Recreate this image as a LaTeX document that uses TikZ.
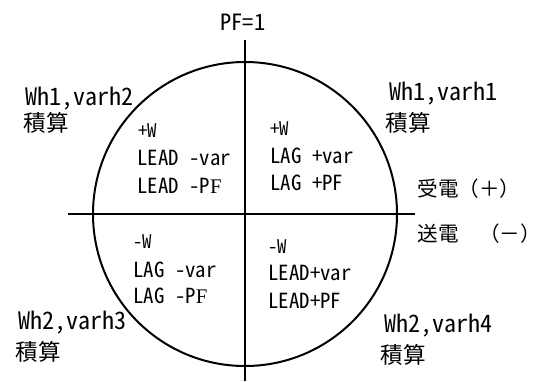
\documentclass[tikz,border=0pt]{standalone}
\usepackage{fontspec}
\newfontfamily\lat{Noto Sans CJK JP}[CharacterWidth=Half]
\newfontfamily\jp{Noto Sans CJK JP}
\newfontfamily\ser{Liberation Serif}
\begin{document}
\begin{tikzpicture}[x=0.5pt,y=-0.5pt,
  outer/.style={inner sep=0pt, anchor=base west, font=\lat\fontsize{12}{14}\selectfont},
  quad/.style={inner sep=0pt, anchor=base west, font=\lat\fontsize{10.4}{12}\selectfont},
  small/.style={inner sep=0pt, anchor=base west, font=\lat\fontsize{9.4}{11}\selectfont},
  jptext/.style={inner sep=0pt, anchor=base west, font=\jp\fontsize{11.3}{13}\selectfont},
  side/.style={inner sep=0pt, anchor=base west, font=\jp\fontsize{10.3}{12}\selectfont},
  axis/.style={line width=1pt}]
\useasboundingbox (0,0) rectangle (544,381);
\coordinate (O) at (245,214);
\coordinate (vt) at (245,40);
\coordinate (vb) at (245,381);
\coordinate (hl) at (68,214);
\coordinate (hr) at (415,214);
\draw[axis] (O) circle[radius=76pt];
\draw[axis] (vt) -- (vb);
\draw[axis] (hl) -- (hr);
% top label
\node[outer, font=\lat\fontsize{11.2}{13}\selectfont] (pf) at (220,30) {PF=1};
% outer labels
\node[outer] (q2a) at (25,105) {Wh1,varh2};
\node[jptext] (q2b) at (23,131) {積算};
\node[outer] (q1a) at (389,100) {Wh1,varh1};
\node[jptext] (q1b) at (385,131) {積算};
\node[outer] (q3a) at (18,329) {Wh2,varh3};
\node[jptext] (q3b) at (15,360) {積算};
\node[outer] (q4a) at (384,332) {Wh2,varh4};
\node[jptext] (q4b) at (380,363) {積算};
% quadrant texts
\node[small] (a1) at (138,137) {+W};
\node[quad] (a2) at (137,165) {LEAD -var};
\node[quad] (a3) at (137,193) {LEAD -P{\ser F}};
\node[small] (b1) at (270,135) {+W};
\node[quad] (b2) at (270,163) {LAG +var};
\node[quad] (b3) at (270,190) {LAG +PF};
\node[small] (c1) at (133,248) {-W};
\node[quad] (c2) at (133,277) {LAG -var};
\node[quad] (c3) at (133,303) {LAG -P{\ser F}};
\node[small] (d1) at (268,253) {-W};
\node[quad] (d2) at (268,280) {LEAD+var};
\node[quad] (d3) at (268,308) {LEAD+PF};
% side labels
\node[side] (rx) at (417,196) {受電（＋）};
\node[side] (tx) at (417,241) {送電　（－）};
\end{tikzpicture}
\end{document}
